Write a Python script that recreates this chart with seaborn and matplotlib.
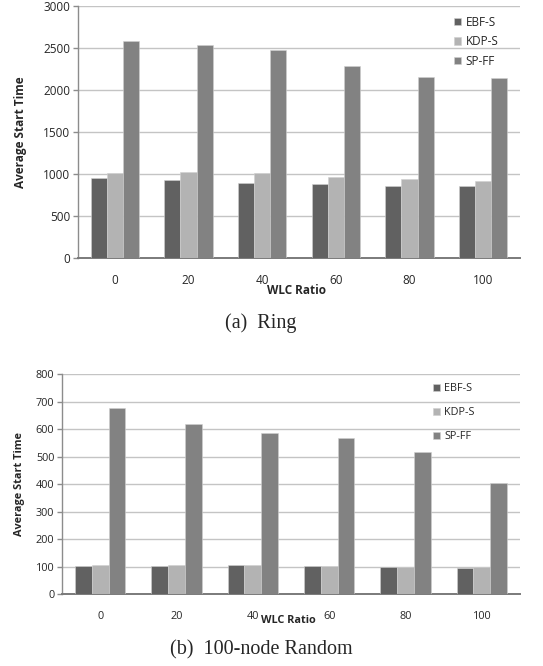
import matplotlib
matplotlib.use("Agg")
import matplotlib.pyplot as plt
import seaborn as sns
import pandas as pd

ratios = ["0", "20", "40", "60", "80", "100"]
methods = ["EBF-S", "KDP-S", "SP-FF"]

ring_ebf = [944, 929, 889, 873, 853, 849]
ring_kdp = [1008, 1020, 1008, 960, 937, 913]
ring_spff = [2579, 2532, 2472, 2286, 2151, 2135]

rand_ebf = [104, 103, 105, 102, 101, 97]
rand_kdp = [107, 108, 105, 102, 101, 99]
rand_spff = [678, 618, 585, 567, 519, 406]

colors = ["#616161", "#b3b3b3", "#828282"]


def to_frame(ebf, kdp, spff):
    rows = []
    for name, vals in zip(methods, [ebf, kdp, spff]):
        for r, v in zip(ratios, vals):
            rows.append({"WLC Ratio": r, "Method": name, "Value": v})
    return pd.DataFrame(rows)


sns.set_theme(style="white")
plt.rcParams["font.family"] = ["Open Sans", "DejaVu Sans"]

fig = plt.figure(figsize=(5.43, 6.66), dpi=100)
W, H = 543.0, 666.0


def draw(rect, df, ymax, ystep, fs, leg_xy, lspace, ylab_x, caption,
         cap_x, cap_y, xlabel_y):
    l, t, r, b = rect
    ax = fig.add_axes([l / W, 1 - b / H, (r - l) / W, (b - t) / H])
    sns.barplot(data=df, x="WLC Ratio", y="Value", hue="Method",
                palette=colors, width=0.66, ax=ax, edgecolor="#d0d0d0",
                linewidth=0.4, zorder=3, legend=True)
    ax.set_ylim(0, ymax)
    ax.set_yticks(range(0, ymax + 1, ystep))
    ax.yaxis.grid(True, color="#c4c4c4", linewidth=1.0, zorder=0)
    ax.set_axisbelow(True)
    for s in ["top", "right"]:
        ax.spines[s].set_visible(False)
    ax.spines["left"].set_color("#8c8c8c")
    ax.spines["left"].set_linewidth(1.0)
    ax.spines["bottom"].set_color("#7a7a7a")
    ax.spines["bottom"].set_linewidth(1.4)
    ax.tick_params(axis="y", length=3.5, width=1.0, color="#8c8c8c",
                   labelsize=fs, pad=2, left=True)
    ax.tick_params(axis="x", length=0, labelsize=fs, pad=12)
    ax.set_ylabel("Average Start Time", fontsize=fs, fontweight="bold")
    ax.yaxis.set_label_coords(ylab_x / W, 1 - (t + b) / 2 / H,
                              transform=fig.transFigure)
    ax.set_xlabel("")
    fig.text(ax.get_position().x0 + ax.get_position().width * 0.495,
             1 - xlabel_y / H, "WLC Ratio", fontsize=fs, fontweight="bold",
             ha="center", va="center")
    ax.legend(loc="upper left", bbox_to_anchor=(leg_xy[0] / W, 1 - leg_xy[1] / H),
              bbox_transform=fig.transFigure, frameon=False,
              fontsize=fs, handlelength=0.6, handleheight=0.6,
              handletextpad=0.4, labelspacing=lspace, borderaxespad=0)
    fig.text(cap_x / W, 1 - cap_y / H, caption,
             family=["Liberation Serif"], fontsize=14.5,
             ha="center", va="center")
    return ax


ring = to_frame(ring_ebf, ring_kdp, ring_spff)
rand = to_frame(rand_ebf, rand_kdp, rand_spff)

draw((78, 5.7, 520, 257.7), ring, 3000, 500, 8.5, (449, 11), 0.55, 27.5,
     "(a)  Ring", 261, 323, 290.5)
draw((62, 374.3, 520, 594.3), rand, 800, 100, 7.8, (429, 379), 1.2, 25.5,
     "(b)  100-node Random", 261, 650, 620.5)

fig.savefig("out.png", dpi=100)
